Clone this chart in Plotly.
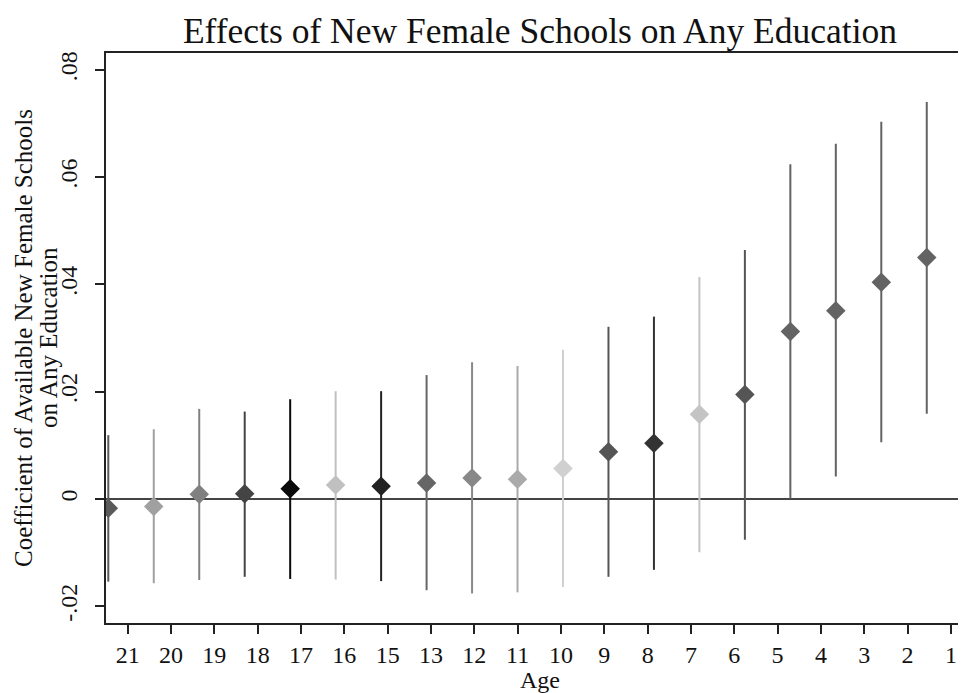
import plotly.graph_objects as go

ages = ["21", "20", "19", "18", "17", "16", "15", "13", "12", "11",
        "10", "9", "8", "7", "6", "5", "4", "3", "2", "1"]
coef = [-0.0017, -0.0014, 0.0009, 0.0010, 0.0019, 0.0026, 0.0024, 0.0030, 0.0039, 0.0037,
        0.0057, 0.0088, 0.0104, 0.0158, 0.0195, 0.0312, 0.0351, 0.0404, 0.0450, 0.0486]
ci_low = [-0.0154, -0.0157, -0.0151, -0.0145, -0.0149, -0.0150, -0.0153, -0.0170, -0.0176, -0.0174,
          -0.0164, -0.0145, -0.0132, -0.0099, -0.0076, 0.0001, 0.0042, 0.0106, 0.0159, 0.0210]
ci_high = [0.0119, 0.0130, 0.0168, 0.0163, 0.0186, 0.0201, 0.0201, 0.0231, 0.0255, 0.0248,
           0.0278, 0.0321, 0.0340, 0.0414, 0.0464, 0.0624, 0.0662, 0.0703, 0.0740, 0.0765]
colors = ["#5a5a5a", "#a0a0a0", "#808080", "#444444", "#0a0a0a", "#c0c0c0", "#222222",
          "#666666", "#888888", "#aaaaaa", "#d0d0d0", "#555555", "#333333", "#c4c4c4",
          "#555555", "#636363", "#636363", "#636363", "#636363", "#636363"]
ytick_vals = [-0.02, 0, 0.02, 0.04, 0.06, 0.08]
ytick_text = ["-.02", "0", ".02", ".04", ".06", ".08"]
title_text = "Effects of New Female Schools on Any Education"
ytitle_lines = ["Coefficient of Available New Female Schools", "on Any Education"]
xtitle_text = "Age"

FONT = "Liberation Serif, Times New Roman, serif"
AX = "#222222"
TXT = "#111111"
# The page body adds an 8px margin; the graph (like the reference) runs past the right edge
W, H = 1000, 685
L, R, T, B = 98, 0, 45, 70
PW, PH = W - L - R, H - T - B

# horizontal scales (pixels per unit) of the marker axis and of the age-label axis
MARK_PX, MARK_R0 = 45.47, -0.0506
TICK_PX, TICK_R0 = 43.33, -0.5

fig = go.Figure()
for i, a in enumerate(ages):
    fig.add_trace(go.Scatter(
        x=[i], y=[coef[i]], mode="markers",
        marker=dict(symbol="diamond", size=15, color=colors[i], line=dict(width=0)),
        error_y=dict(type="data", symmetric=False,
                     array=[ci_high[i] - coef[i]], arrayminus=[coef[i] - ci_low[i]],
                     width=0, thickness=2, color=colors[i]),
        showlegend=False, hoverinfo="skip", xaxis="x", yaxis="y",
    ))

# invisible trace to carry the age label axis
fig.add_trace(go.Scatter(x=list(range(len(ages))), y=[None] * len(ages), mode="markers",
                         xaxis="x2", yaxis="y", showlegend=False, hoverinfo="skip"))

annotations = [
    dict(text=ytitle_lines[0], xref="paper", yref="paper",
         x=(15 - L) / PW, y=0.5, xanchor="center", yanchor="middle",
         textangle=-90, showarrow=False, font=dict(family=FONT, size=25, color=TXT)),
    dict(text=ytitle_lines[1], xref="paper", yref="paper",
         x=(40 - L) / PW, y=0.5, xanchor="center", yanchor="middle",
         textangle=-90, showarrow=False, font=dict(family=FONT, size=25, color=TXT)),
    dict(text=xtitle_text, xref="paper", yref="paper",
         x=(532 - L) / PW, y=-(672 - (T + PH)) / PH, xanchor="center", yanchor="middle",
         showarrow=False, font=dict(family=FONT, size=24, color=TXT)),
]

fig.update_layout(
    width=W, height=H,
    margin=dict(l=L, r=R, t=T, b=B, autoexpand=False),
    paper_bgcolor="white", plot_bgcolor="white",
    font=dict(family=FONT, color=TXT, size=24),
    title=dict(text=title_text,
               x=532 / W, xref="container", xanchor="center",
               y=1 - 23 / H, yref="container", yanchor="middle",
               font=dict(family=FONT, size=35.5, color=TXT)),
    annotations=annotations,
    xaxis=dict(range=[MARK_R0, MARK_R0 + PW / MARK_PX], showticklabels=False, showgrid=False,
               zeroline=False, showline=False, ticks="", automargin=False),
    xaxis2=dict(overlaying="x", anchor="y", side="bottom",
                range=[TICK_R0, TICK_R0 + PW / TICK_PX], tickmode="array",
                tickvals=list(range(len(ages))), ticktext=ages,
                ticks="outside", ticklen=9, tickwidth=2, tickcolor=AX,
                showline=True, linewidth=2, linecolor=AX, mirror=True,
                showgrid=False, zeroline=False, automargin=False,
                tickfont=dict(family=FONT, size=24, color=TXT)),
    yaxis=dict(range=[-0.02311, 0.08313], tickmode="array",
               tickvals=ytick_vals, ticktext=ytick_text, tickangle=-90,
               ticks="outside", ticklen=9, tickwidth=2, tickcolor=AX,
               showline=True, linewidth=2, linecolor=AX,
               showgrid=False, zeroline=True, zerolinecolor="#444444", zerolinewidth=2,
               automargin=False, ticklabelstandoff=8,
               tickfont=dict(family=FONT, size=24, color=TXT)),
)

fig.write_html("out.html")
